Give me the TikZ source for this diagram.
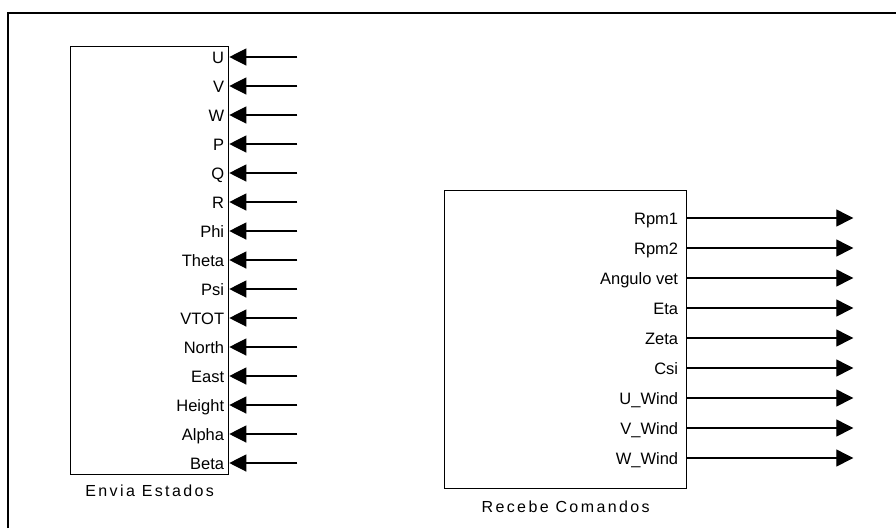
\documentclass[tikz,border=0pt]{standalone}
\usepackage{fontspec}
\setmainfont{Liberation Sans}
\newfontfamily\capfont[LetterSpace=15]{Liberation Sans}
\usetikzlibrary{arrows.meta,positioning}

\begin{document}
\begin{tikzpicture}[x=1pt, y=-1pt,
  block/.style={draw, line width=1.3pt, inner sep=0pt, anchor=north west},
  port/.style={anchor=east, inner sep=0pt, xshift=-5pt, text height=12pt, text depth=0pt,
               font=\fontsize{16.5}{19}\selectfont},
  sig/.style={-{Triangle[length=17pt, width=17pt]}, line width=1.2pt},
  caption/.style={font=\capfont\fontsize{16}{19}\selectfont, inner sep=0pt,
                  text height=11pt, text depth=0pt}
]
  \useasboundingbox (0,0) rectangle (896,528);
  % frame
  \draw[line width=2pt] (8,528) -- (8,13) -- (896,13);

  % sending block
  \node[block, minimum width=158pt, minimum height=428pt] (env) at (70,46) {};
  \node[caption, below=10pt of env] (envcap) {Envia Estados};
  \foreach \lab [count=\i] in {U,V,W,P,Q,R,Phi,Theta,Psi,VTOT,North,East,Height,Alpha,Beta} {
    \path (env.north east) ++(0,{29*\i-18}) coordinate (in\i);
    \coordinate (src\i) at ([xshift=68pt]in\i);
    \node[port] (inlab\i) at (in\i) {\lab};
    \draw[sig] (src\i) -- (in\i);
  }

  % receiving block
  \node[block, minimum width=242pt, minimum height=298pt] (rec) at (444,190) {};
  \node[caption, below=12pt of rec] (reccap) {Recebe Comandos};
  \foreach \lab [count=\i] in {Rpm1,Rpm2,Angulo vet,Eta,Zeta,Csi,U\_Wind,V\_Wind,W\_Wind} {
    \path (rec.north east) ++(0,{30*\i-2}) coordinate (out\i);
    \coordinate (dst\i) at ([xshift=166pt]out\i);
    \node[port, xshift=-4pt] (outlab\i) at (out\i) {\lab};
    \draw[sig] (out\i) -- (dst\i);
  }
\end{tikzpicture}
\end{document}
